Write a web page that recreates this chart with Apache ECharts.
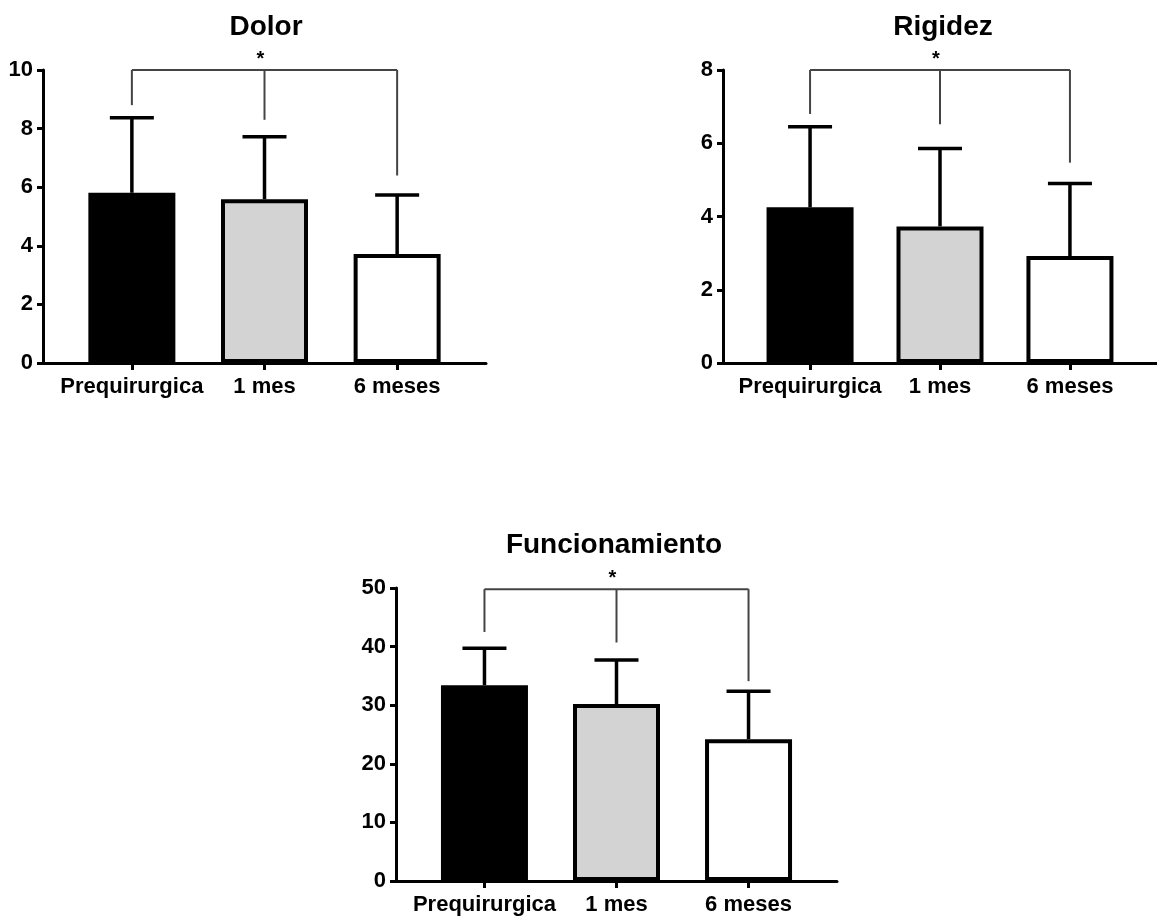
<!DOCTYPE html>
<html>
<head>
<meta charset="utf-8">
<script src="https://cdn.jsdelivr.net/npm/echarts@6/dist/echarts.min.js"></script>
<style>
  html, body { margin: 0; padding: 0; background: #fff; }
  #chart { width: 1157px; height: 917px; }
</style>
</head>
<body>
<div id="chart"></div>
<script>
// datos
const categorias = ['Prequirurgica', '1 mes', '6 meses'];
const colores = ['#000000', '#d3d3d3', '#ffffff'];

const dolorMedia = [5.81, 5.59, 3.72];
const dolorDE = [2.56, 2.13, 2.01];
const dolorCorchete = [8.8, 8.3, 6.4];

const rigidezMedia = [4.25, 3.73, 2.92];
const rigidezDE = [2.2, 2.13, 1.98];
const rigidezCorchete = [6.8, 6.52, 5.47];

const funcMedia = [33.4, 30.2, 24.2];
const funcDE = [6.3, 7.5, 8.2];
const funcCorchete = [42.5, 40.7, 34.1];

const titulos = ['Dolor', 'Rigidez', 'Funcionamiento'];
const yMax = [10, 8, 50];
const yIntervalo = [2, 2, 10];
const corcheteTope = [10, 8, 49.8];

const FUENTE = '"Liberation Sans", Arial, sans-serif';

const grids = [
  { left: 43, top: 70, width: 443, height: 293 },
  { left: 723, top: 70, width: 439, height: 293 },
  { left: 396, top: 588, width: 441, height: 293 }
];
const titulosPos = [
  { x: 261, y: 8 },
  { x: 938, y: 8 },
  { x: 609, y: 526 }
];

const chart = echarts.init(document.getElementById('chart'), null, { renderer: 'canvas' });

const xAxes = grids.map((g, i) => ({
  type: 'value',
  gridIndex: i,
  min: -0.67,
  max: 2.67,
  splitLine: { show: false },
  axisLine: { show: true, onZero: false, lineStyle: { color: '#000', width: 3 } },
  axisTick: { show: true, customValues: [0, 1, 2], length: 7, lineStyle: { color: '#000', width: 3 } },
  axisLabel: {
    show: true,
    customValues: [0, 1, 2],
    formatter: (v) => categorias[Math.round(v)] || '',
    margin: 13,
    color: '#000',
    fontWeight: 'bold',
    fontSize: 22,
    fontFamily: FUENTE
  }
}));

const yAxes = grids.map((g, i) => ({
  type: 'value',
  gridIndex: i,
  min: 0,
  max: yMax[i],
  interval: yIntervalo[i],
  splitLine: { show: false },
  axisLine: { show: true, onZero: false, lineStyle: { color: '#000', width: 3 } },
  axisTick: { show: true, length: 6, lineStyle: { color: '#000', width: 3 } },
  axisLabel: {
    margin: 10,
    color: '#000',
    fontWeight: 'bold',
    fontSize: 22,
    fontFamily: FUENTE
  }
}));

function panel(idx, media, de, corchete) {
  const barras = {
    type: 'bar',
    xAxisIndex: idx,
    yAxisIndex: idx,
    barWidth: 87,
    z: 2,
    itemStyle: { borderColor: '#000', borderWidth: 4 },
    data: media.map((v, i) => ({ value: [i, v], itemStyle: { color: colores[i] } }))
  };

  const errores = {
    type: 'custom',
    xAxisIndex: idx,
    yAxisIndex: idx,
    z: 3,
    encode: { x: 0, y: 1 },
    data: media.map((v, i) => [i, v, de[i]]),
    renderItem: (params, api) => {
      const x = api.value(0);
      const m = api.value(1);
      const s = api.value(2);
      const p0 = api.coord([x, m]);
      const p1 = api.coord([x, m + s]);
      const estilo = { stroke: '#000', lineWidth: 3.5 };
      return {
        type: 'group',
        children: [
          { type: 'line', shape: { x1: p0[0], y1: p0[1], x2: p1[0], y2: p1[1] }, style: estilo },
          { type: 'line', shape: { x1: p1[0] - 22, y1: p1[1], x2: p1[0] + 22, y2: p1[1] }, style: estilo }
        ]
      };
    }
  };

  const tope = corcheteTope[idx];
  const llave = {
    type: 'custom',
    xAxisIndex: idx,
    yAxisIndex: idx,
    z: 4,
    encode: { x: 0, y: 1 },
    data: corchete.map((d, i) => [i, d]),
    renderItem: (params, api) => {
      const x = api.value(0);
      const d = api.value(1);
      const pa = api.coord([x, d]);
      const pb = api.coord([x, tope]);
      const estilo = { stroke: '#444', lineWidth: 2 };
      const hijos = [
        { type: 'line', shape: { x1: pa[0], y1: pa[1], x2: pb[0], y2: pb[1] }, style: estilo }
      ];
      if (params.dataIndex === 0) {
        const pc = api.coord([2, tope]);
        hijos.push({ type: 'line', shape: { x1: pb[0], y1: pb[1], x2: pc[0], y2: pc[1] }, style: estilo });
      }
      if (params.dataIndex === 1) {
        hijos.push({
          type: 'text',
          style: {
            text: '*',
            x: pb[0] - 4,
            y: pb[1] - 11,
            align: 'center',
            verticalAlign: 'middle',
            fill: '#000',
            font: 'bold 20px ' + FUENTE
          }
        });
      }
      return { type: 'group', children: hijos };
    }
  };

  return [barras, errores, llave];
}

const option = {
  backgroundColor: '#fff',
  animation: false,
  title: titulos.map((t, i) => ({
    text: t,
    left: titulosPos[i].x,
    top: titulosPos[i].y,
    textAlign: 'center',
    textStyle: { color: '#000', fontWeight: 'bold', fontSize: 28, fontFamily: FUENTE }
  })),
  grid: grids,
  xAxis: xAxes,
  yAxis: yAxes,
  series: [
    ...panel(0, dolorMedia, dolorDE, dolorCorchete),
    ...panel(1, rigidezMedia, rigidezDE, rigidezCorchete),
    ...panel(2, funcMedia, funcDE, funcCorchete)
  ]
};

chart.setOption(option);
</script>
</body>
</html>
